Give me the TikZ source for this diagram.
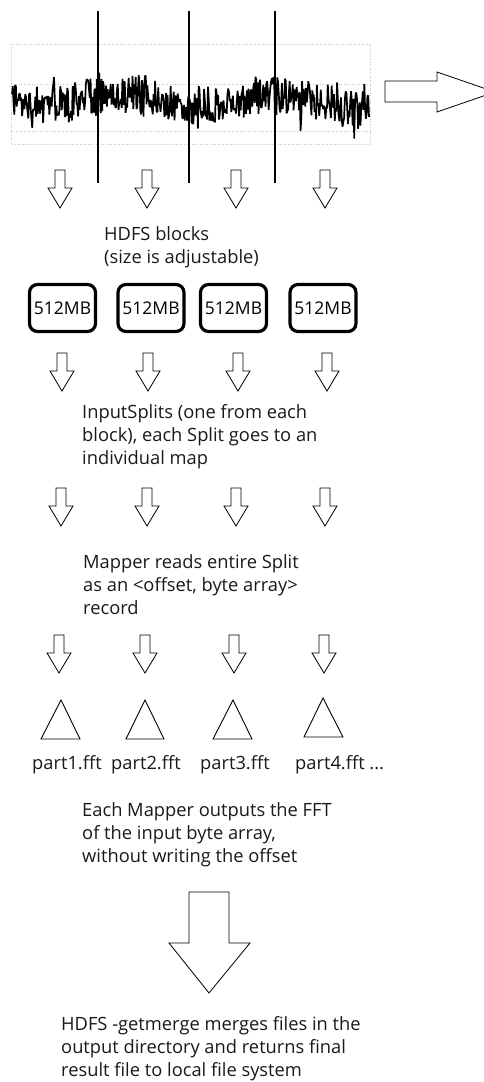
\documentclass[tikz,border=0pt]{standalone}
\usepackage{fontspec}
\setmainfont{Open Sans}
\begin{document}
\begin{tikzpicture}[x=1pt,y=-1pt,
  blockarrow/.style={draw=black,line width=0.8pt,fill=white,line join=miter},
  signal/.style={draw=black,line width=1.7pt,line join=bevel},
  gridline/.style={draw=gray!45,line width=0.6pt,dotted},
  marker/.style={draw=black,line width=1.1pt},
  txt/.style={anchor=north west,inner sep=0pt,align=left,font=\fontsize{18.3}{23}\selectfont,text=black!90},
  block/.style={draw=black,line width=3.2pt,rounded corners=8pt,minimum width=66pt,minimum height=47pt,inner sep=0pt,font=\fontsize{17.5}{20}\selectfont},
  tri/.style={draw=black,line width=0.9pt,fill=white},
  smalldown/.pic={\draw[blockarrow] (-5,0) -- (-5,18) -- (-12,18) -- (0,38) -- (12,18) -- (5,18) -- (5,0) -- cycle;}
]
\useasboundingbox (0,0) rectangle (483,1082);

% signal chart grid
\draw[gridline] (11,44) rectangle (370,144);
\draw[gridline] (11,84) -- (370,84);
\draw[gridline] (11,131) -- (370,131);
\draw[gridline] (188,44) -- (188,144);

% signal
\pgfmathsetseed{17}
\draw[signal] plot[domain=12:369,samples=460,variable=\t]
  (\t,{100 + 6*sin(\t*2.3) + 19*rand + 45*rand*rand*rand*rand});

% block boundaries
\draw[marker] (98,11) -- (98,183);
\draw[marker] (189,11) -- (189,183);
\draw[marker] (275,11) -- (275,183);

% big right arrow
\draw[blockarrow] (385,81) -- (437,81) -- (437,72) -- (495,92) -- (437,112) -- (437,102) -- (385,102) -- cycle;

% row 1 arrows
\pic (a11) at (60,170) {smalldown};
\pic (a12) at (147,170) {smalldown};
\pic (a13) at (236,170) {smalldown};
\pic (a14) at (325,170) {smalldown};

\node[txt] (hdfs) at (104,226) {HDFS blocks\\(size is adjustable)};

% blocks
\node[block] (b1) at (62.5,308) {512MB};
\node[block] (b2) at (151,308) {512MB};
\node[block] (b3) at (233.5,308) {512MB};
\node[block] (b4) at (323,308) {512MB};

% row 2 arrows
\pic (a21) at (62,353) {smalldown};
\pic (a22) at (148,353) {smalldown};
\pic (a23) at (238,353) {smalldown};
\pic (a24) at (327,353) {smalldown};

\node[txt] (splits) at (82,404) {InputSplits (one from each\\block), each Split goes to an\\individual map};

% row 3 arrows
\pic (a31) at (61,488) {smalldown};
\pic (a32) at (147,488) {smalldown};
\pic (a33) at (236,488) {smalldown};
\pic (a34) at (325,488) {smalldown};

\node[txt] (mapper) at (83,554) {Mapper reads entire Split\\as an <offset, byte array>\\record};

% row 4 arrows
\pic (a41) at (59,635) {smalldown};
\pic (a42) at (145,635) {smalldown};
\pic (a43) at (234,635) {smalldown};
\pic (a44) at (324,635) {smalldown};

% output triangles
\draw[tri] (61,700) -- (80,739) -- (41,739) -- cycle;
\draw[tri] (145,700) -- (164,739) -- (126,739) -- cycle;
\draw[tri] (233,700) -- (252,739) -- (213,739) -- cycle;
\draw[tri] (323,698) -- (343,737) -- (304,737) -- cycle;

\node[txt] (p1) at (32,755) {part1.fft};
\node[txt] (p2) at (111,755) {part2.fft};
\node[txt] (p3) at (200,755) {part3.fft};
\node[txt] (p4) at (295,755) {part4.fft ...};

\node[txt] (each) at (82,802) {Each Mapper outputs the FFT\\of the input byte array,\\without writing the offset};

% big down arrow
\draw[blockarrow] (189,892) -- (229,892) -- (229,943) -- (250,943) -- (209,993) -- (169,943) -- (189,943) -- cycle;

\node[txt] (merge) at (61,1016) {HDFS -getmerge merges files in the\\output directory and returns final\\result file to local file system};
\end{tikzpicture}
\end{document}
